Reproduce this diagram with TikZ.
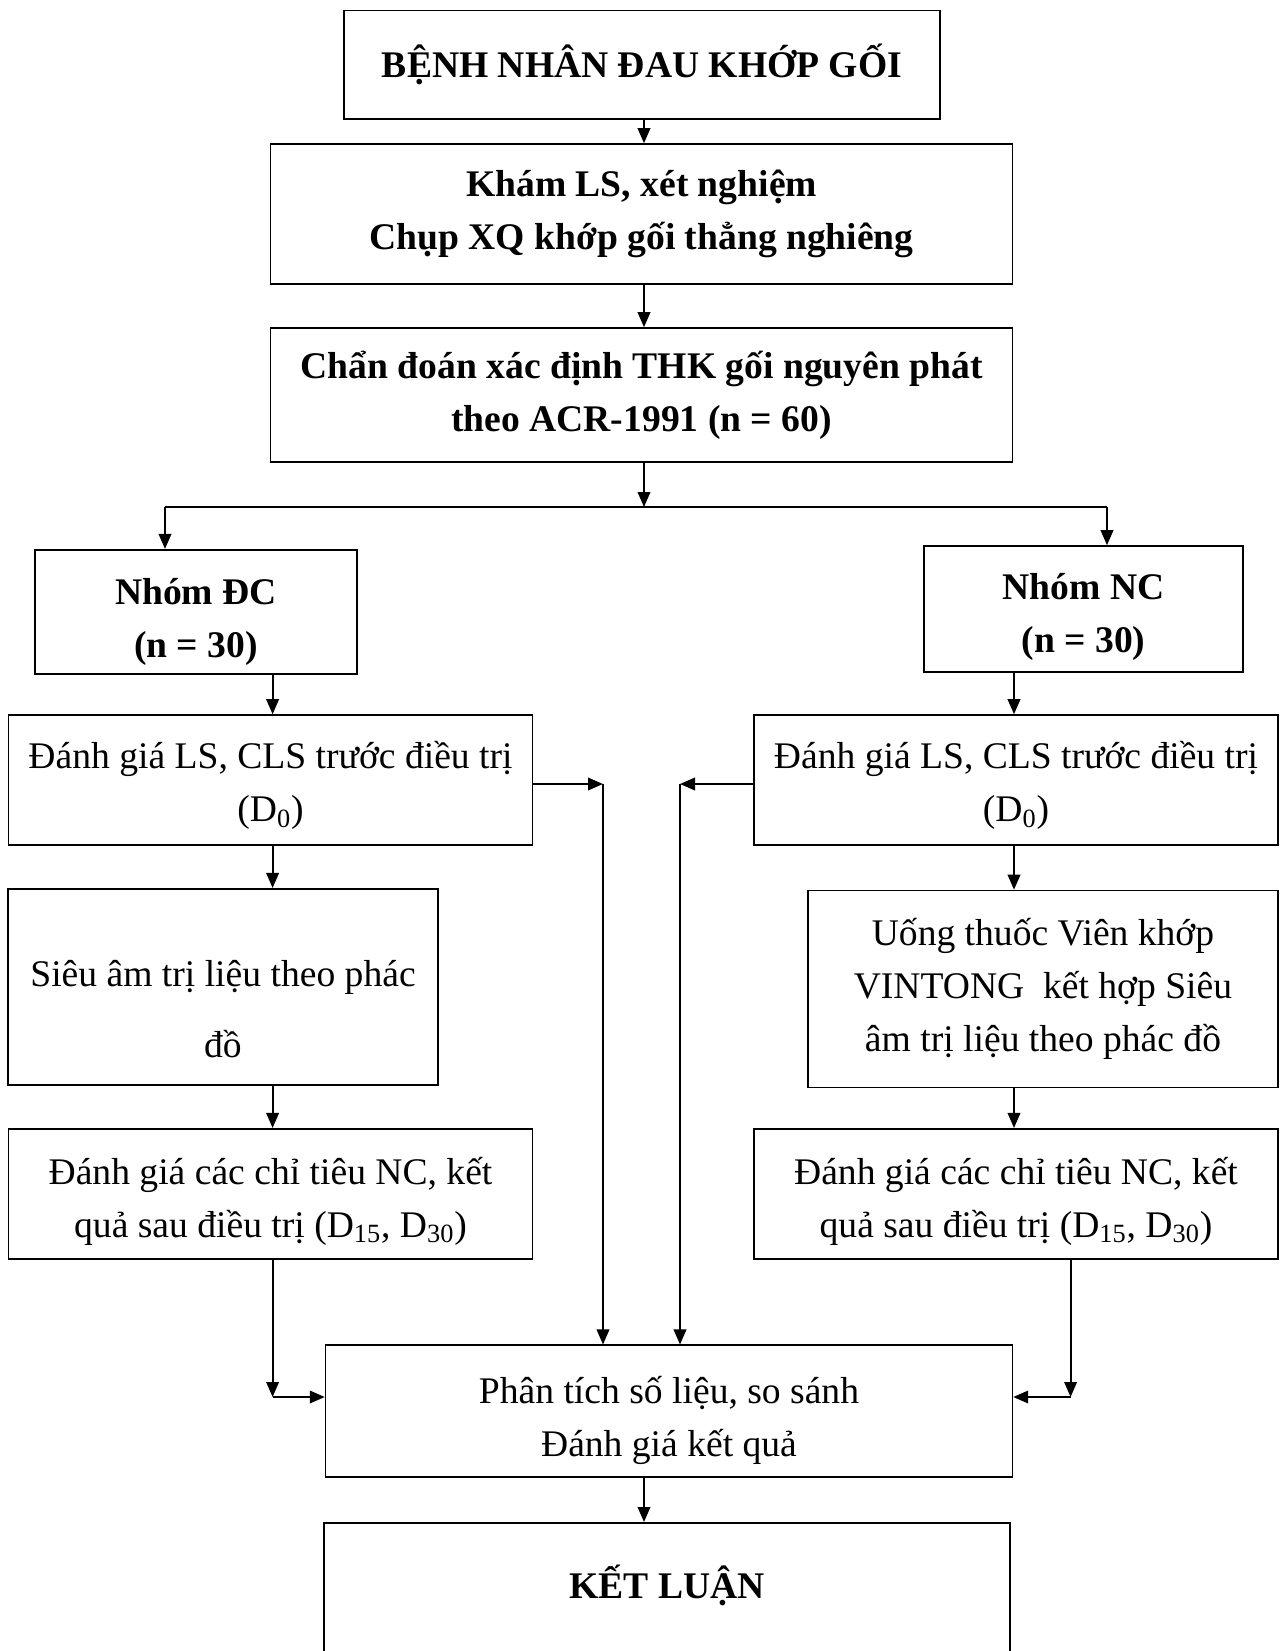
\documentclass[tikz,border=0pt]{standalone}
\usepackage{fontspec}
\setmainfont{Liberation Serif}
\usepackage{tikz}
\usetikzlibrary{arrows.meta,positioning,calc}
\tikzset{
  flowbox/.style={draw=black, line width=0.9pt, align=center, inner sep=0pt, font=\fontsize{21.4}{30}\selectfont},
  headbox/.style={flowbox, font=\fontsize{21.4}{30}\selectfont\bfseries},
  flowarrow/.style={-{Triangle[length=0.3cm, width=0.25cm]}, line width=1.1pt, draw=black},
  flowline/.style={line width=1.1pt, draw=black}
}
\newcommand{\lowerby}[1]{\rule{0pt}{#1}}

\begin{document}
\begin{tikzpicture}[x=0.02cm, y=-0.02cm]
    \useasboundingbox (0,0) rectangle (1279,1651);
    \clip (0,0) rectangle (1279,1651);
    \node[headbox, minimum width=11.92cm, minimum height=2.17cm] (patient) at (642,64.7) {BỆNH NHÂN ĐAU KHỚP GỐI};
    \node[headbox, minimum width=14.84cm, minimum height=2.80cm] (exam) at (641.6,214) {Khám LS, xét nghiệm\\Chụp XQ khớp gối thẳng nghiêng};
    \node[headbox, minimum width=14.84cm, minimum height=2.68cm] (diag) at (641.6,395) {Chẩn đoán xác định THK gối nguyên phát\\theo ACR-1991 (n = 60)};
    \node[headbox, minimum width=6.44cm, minimum height=2.49cm] (groupDC) at (196,612) {\lowerby{26pt}Nhóm ĐC\\(n = 30)};
    \node[headbox, minimum width=6.38cm, minimum height=2.52cm] (groupNC) at (1083.5,609) {\lowerby{24pt}Nhóm NC\\(n = 30)};
    \node[flowbox, minimum width=10.48cm, minimum height=2.60cm] (preL) at (270.5,780) {\lowerby{22pt}Đánh giá LS, CLS trước điều trị\\(D\textsubscript{0})};
    \node[flowbox, minimum width=10.48cm, minimum height=2.60cm] (preR) at (1016,780) {\lowerby{22pt}Đánh giá LS, CLS trước điều trị\\(D\textsubscript{0})};
    \node[flowbox, minimum width=8.60cm, minimum height=3.93cm, font=\fontsize{21.4}{40}\selectfont] (ultra) at (223,987) {\lowerby{40pt}Siêu âm trị liệu theo phác\\đồ};
    \node[flowbox, minimum width=9.40cm, minimum height=3.94cm] (drug) at (1043,989) {Uống thuốc Viên khớp\\VINTONG\ \ kết hợp Siêu\\âm trị liệu theo phác đồ};
    \node[flowbox, minimum width=10.48cm, minimum height=2.61cm] (postL) at (270.5,1194) {\lowerby{24pt}Đánh giá các chỉ tiêu NC, kết\\quả sau điều trị (D\textsubscript{15}, D\textsubscript{30})};
    \node[flowbox, minimum width=10.48cm, minimum height=2.61cm] (postR) at (1016,1194) {\lowerby{24pt}Đánh giá các chỉ tiêu NC, kết\\quả sau điều trị (D\textsubscript{15}, D\textsubscript{30})};
    \node[flowbox, minimum width=13.74cm, minimum height=2.63cm] (analysis) at (669,1411) {\lowerby{26pt}Phân tích số liệu, so sánh\\Đánh giá kết quả};
    \node[headbox, minimum width=13.73cm, text height=1.52cm, text depth=1.6cm, anchor=north] (concl) at (667,1522) {KẾT LUẬN};

    % helper points
    \coordinate (mid) at (644,0);
    \coordinate (split) at (644,507);
    \coordinate (splitL) at (165,507);
    \coordinate (splitR) at (1107,507);
    \coordinate (colL) at (272.6,0);
    \coordinate (colR) at (1014,0);
    \coordinate (sideL) at (603,784);
    \coordinate (sideR) at (680,784);
    \coordinate (botL) at (272.6,1397);
    \coordinate (botR) at (1070.6,1397);

    \draw[flowarrow] (mid |- patient.south) -- (mid |- exam.north);
    \draw[flowarrow] (mid |- exam.south) -- (mid |- diag.north);
    \draw[flowarrow] (mid |- diag.south) -- (split);
    \draw[flowline] (splitL) -- (splitR);
    \draw[flowarrow] (splitL) -- (splitL |- groupDC.north);
    \draw[flowarrow] (splitR) -- (splitR |- groupNC.north);

    \draw[flowarrow] (colL |- groupDC.south) -- (colL |- preL.north);
    \draw[flowarrow] (colL |- preL.south) -- (colL |- ultra.north);
    \draw[flowarrow] (colL |- ultra.south) -- (colL |- postL.north);
    \draw[flowarrow] (colR |- groupNC.south) -- (colR |- preR.north);
    \draw[flowarrow] (colR |- preR.south) -- (colR |- drug.north);
    \draw[flowarrow] (colR |- drug.south) -- (colR |- postR.north);

    \draw[flowarrow] (preL.east |- sideL) -- (sideL);
    \draw[flowarrow] (sideL) -- (sideL |- analysis.north);
    \draw[flowarrow] (preR.west |- sideR) -- (sideR);
    \draw[flowarrow] (sideR) -- (sideR |- analysis.north);

    \draw[flowarrow] (botL |- postL.south) -- (botL);
    \draw[flowarrow] (botL) -- (analysis.west |- botL);
    \draw[flowarrow] (botR |- postR.south) -- (botR);
    \draw[flowarrow] (botR) -- (analysis.east |- botR);
    \draw[flowarrow] (mid |- analysis.south) -- (mid |- concl.north);
  \end{tikzpicture}
\end{document}
